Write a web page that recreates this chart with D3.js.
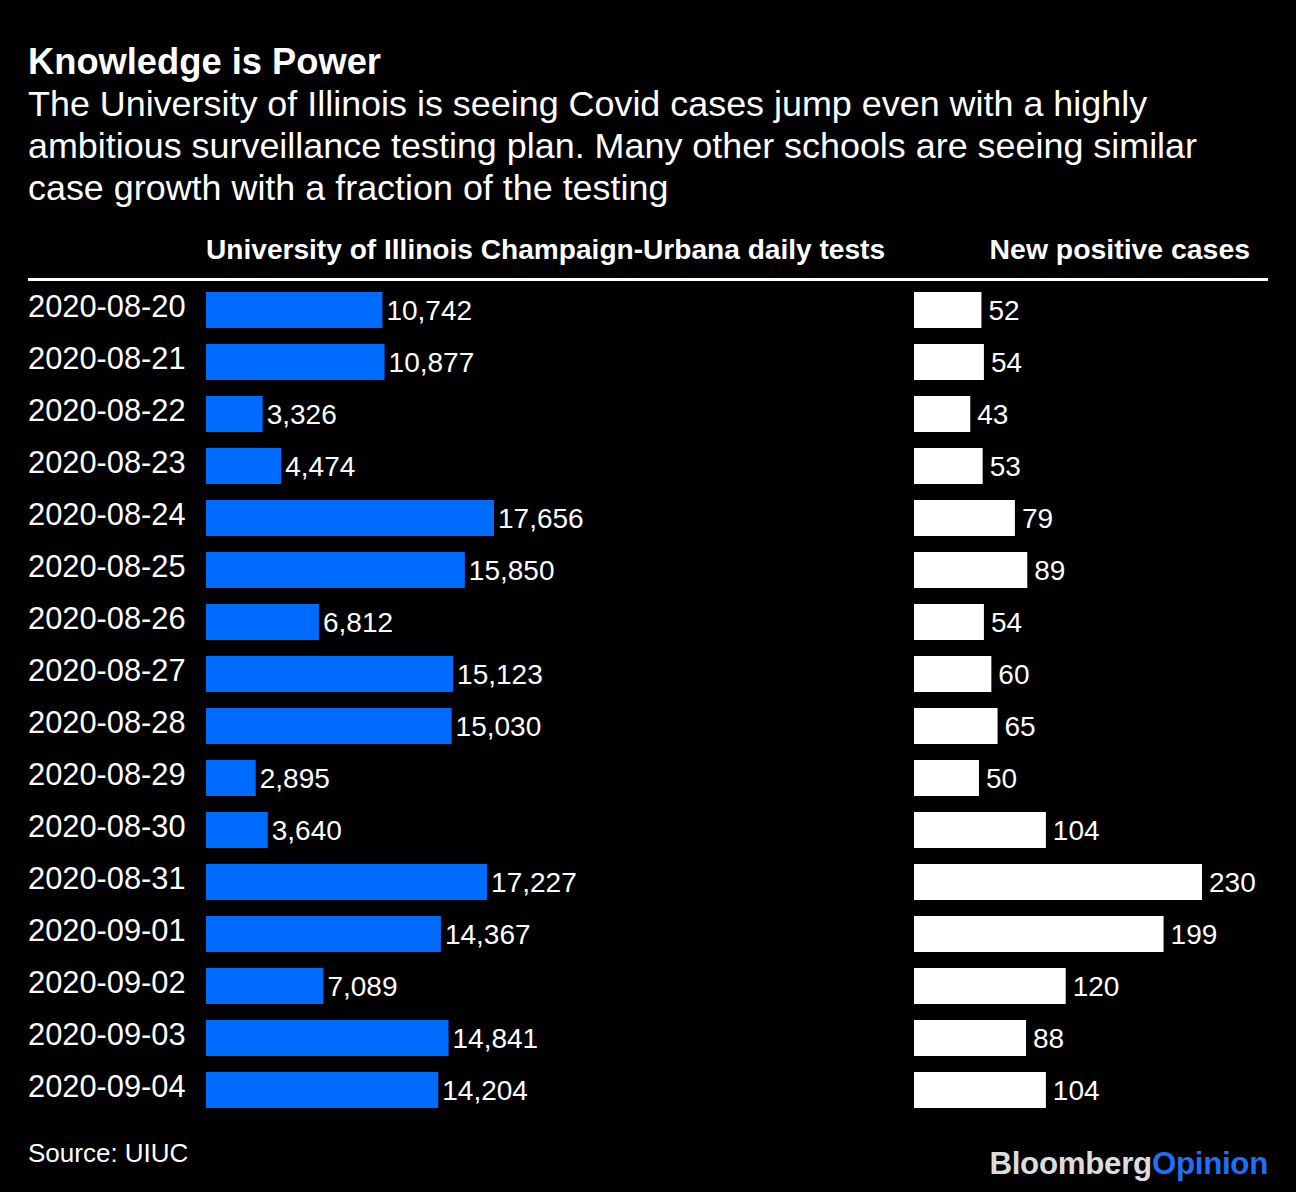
<!DOCTYPE html>
<html>
<head>
<meta charset="utf-8">
<script src="https://cdn.jsdelivr.net/npm/d3@7"></script>
<style>
  html, body { margin: 0; padding: 0; background: #000; }
  svg { display: block; }
  text { font-family: "Liberation Sans", Arial, Helvetica, sans-serif; fill: #fff; }
</style>
</head>
<body>
<div id="chart"></div>
<script>
const dates = ["2020-08-20","2020-08-21","2020-08-22","2020-08-23","2020-08-24","2020-08-25","2020-08-26","2020-08-27","2020-08-28","2020-08-29","2020-08-30","2020-08-31","2020-09-01","2020-09-02","2020-09-03","2020-09-04"];
const tests = [10742,10877,3326,4474,17656,15850,6812,15123,15030,2895,3640,17227,14367,7089,14841,14204];
const cases = [52,54,43,53,79,89,54,60,65,50,104,230,199,120,88,104];

const title = "Knowledge is Power";
const subtitleLines = [
  "The University of Illinois is seeing Covid cases jump even with a highly",
  "ambitious surveillance testing plan. Many other schools are seeing similar",
  "case growth with a fraction of the testing"
];
const testsHeader = "University of Illinois Champaign-Urbana daily tests";
const casesHeader = "New positive cases";
const source = "Source: UIUC";

const W = 1296, H = 1192;
const svg = d3.select("#chart").append("svg").attr("width", W).attr("height", H);
svg.append("rect").attr("width", W).attr("height", H).attr("fill", "#000");

// Title & subtitle
svg.append("text").attr("x", 28).attr("y", 74)
  .attr("font-size", 36.3).attr("font-weight", "bold").text(title);
const sub = svg.append("text").attr("font-size", 35.9);
subtitleLines.forEach((l, i) => {
  sub.append("tspan").attr("x", 28).attr("y", 116 + i * 42).text(l);
});

// Headers
const leftX = 206, rightX = 914, barMax = 285, barExtra = 3;
svg.append("text").attr("x", leftX).attr("y", 259)
  .attr("font-size", 28.1).attr("font-weight", "bold").text(testsHeader);
svg.append("text").attr("x", 1250).attr("y", 259).attr("text-anchor", "end")
  .attr("font-size", 28.4).attr("font-weight", "bold").text(casesHeader);
svg.append("line").attr("x1", 28).attr("x2", 1268).attr("y1", 279.5).attr("y2", 279.5)
  .attr("stroke", "#fff").attr("stroke-width", 3);

// Scales
const y = d3.scaleBand().domain(dates).range([284, 284 + 52 * 16])
  .paddingInner(16 / 52).paddingOuter(8 / 52);
const xT = d3.scaleLinear().domain([0, d3.max(tests)]).range([0, barMax]);
const xC = d3.scaleLinear().domain([0, d3.max(cases)]).range([0, barMax]);
const fmt = d3.format(",");

const rows = svg.append("g").selectAll("g").data(dates).join("g");

rows.append("text").attr("x", 28).attr("y", d => y(d) + 24.5)
  .attr("font-size", 30.8).text(d => d);

rows.append("rect").attr("x", leftX).attr("y", d => y(d))
  .attr("width", (d, i) => xT(tests[i]) + barExtra).attr("height", y.bandwidth())
  .attr("fill", "#006cff");
rows.append("text").attr("x", (d, i) => leftX + xT(tests[i]) + barExtra + 4)
  .attr("y", d => y(d) + 27.5).attr("font-size", 28).text((d, i) => fmt(tests[i]));

rows.append("rect").attr("x", rightX).attr("y", d => y(d))
  .attr("width", (d, i) => xC(cases[i]) + barExtra).attr("height", y.bandwidth())
  .attr("fill", "#fff");
rows.append("text").attr("x", (d, i) => rightX + xC(cases[i]) + barExtra + 7)
  .attr("y", d => y(d) + 27.5).attr("font-size", 28).text((d, i) => cases[i]);

// Footer
svg.append("text").attr("x", 28).attr("y", 1162).attr("font-size", 26).text(source);
const logo = svg.append("text").attr("x", 1268).attr("y", 1174).attr("text-anchor", "end")
  .attr("font-size", 31.3).attr("font-weight", "bold").attr("letter-spacing", -0.3);
logo.append("tspan").attr("fill", "#dcdcdc").style("fill", "#dcdcdc").text("Bloomberg");
logo.append("tspan").attr("fill", "#1f6fff").style("fill", "#1f6fff").text("Opinion");
</script>
</body>
</html>
